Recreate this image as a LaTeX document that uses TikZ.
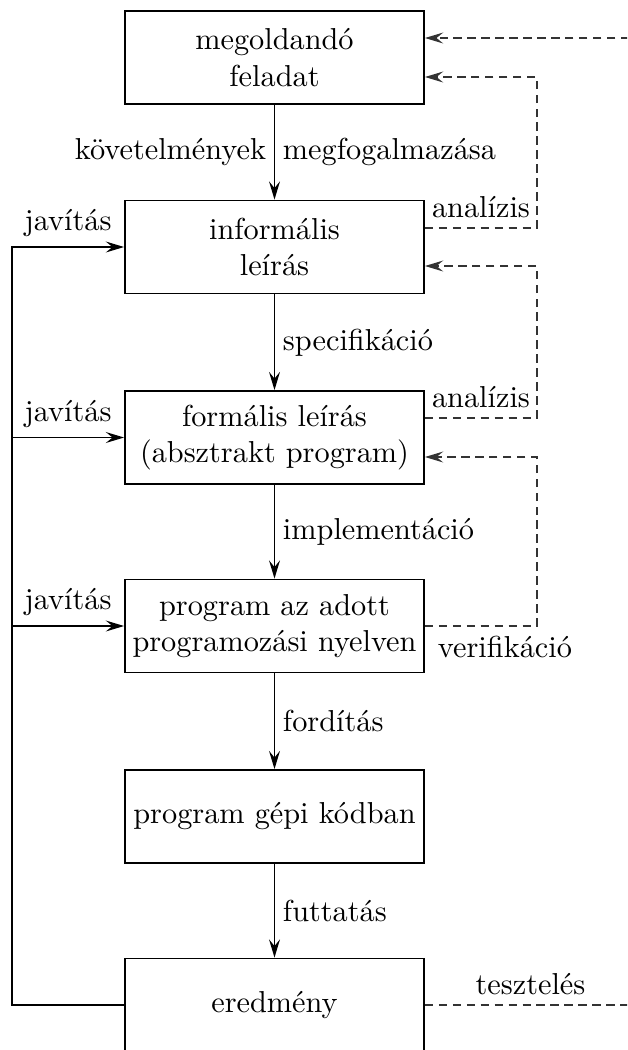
\documentclass[tikz,border=0pt]{standalone}
\usepackage{fontspec}
\usetikzlibrary{arrows.meta,calc}
\begin{document}
\begin{tikzpicture}[x=0.33pt,y=-0.33pt,
  stage/.style={draw,line width=0.6pt,minimum width=98.7pt,minimum height=30.7pt,
    align=center,inner sep=0pt},
  tip/.style={-{Stealth[length=6pt,width=3.6pt,inset=2.2pt]}},
  flow/.style={line width=0.6pt,tip},
  back/.style={line width=0.6pt,black!80,dash pattern=on 2.8pt off 1.8pt,tip},
  lbl/.style={inner sep=3pt,text=black},
  side/.style={inner sep=2.5pt}]
\useasboundingbox (0,0) rectangle (627,1050);
\clip (0,0) rectangle (627,1050);

% stages of the process
\node[stage] (b1) at (274.5,57.5)  {megoldandó\\feladat};
\node[stage] (b2) at (274.5,247)   {informális\\leírás};
\node[stage] (b3) at (274.5,437.5) {formális leírás\\(absztrakt program)};
\node[stage] (b4) at (274.5,626)   {program az adott\\programozási nyelven};
\node[stage] (b5) at (274.5,816.5) {program gépi kódban};
\node[stage] (b6) at (274.5,1005)  {eredmény};

% main flow downwards
\draw[flow] (b1) -- (b2)
  node[midway,left,side]{követelmények}
  node[midway,right,side]{megfogalmazása};
\draw[flow] (b2) -- (b3) node[midway,right,side]{specifikáció};
\draw[flow] (b3) -- (b4) node[midway,right,side]{implementáció};
\draw[flow] (b4) -- (b5) node[midway,right,side]{fordítás};
\draw[flow] (b5) -- (b6) node[midway,right,side]{futtatás};

% correction loop on the left
\coordinate (rail) at (12,0);
\draw[flow] (b6.west) -- (b6.west -| rail) |- (b2.west)
  node[pos=0.75,above,lbl]{javítás};
\draw[flow] (b3.west -| rail) -- (b3.west) node[midway,above,lbl]{javítás};
\draw[flow] (b4.west -| rail) -- (b4.west) node[midway,above,lbl]{javítás};

% checking loops on the right
\coordinate (col) at (537,0);
\coordinate (far) at (636,0);
\coordinate (i0) at ($(b1.east)+(0,-19.5)$);
\coordinate (i1) at ($(b1.east)+(0,19.5)$);
\coordinate (o2) at ($(b2.east)+(0,-19)$);
\coordinate (i2) at ($(b2.east)+(0,19)$);
\coordinate (o3) at ($(b3.east)+(0,-19.5)$);
\coordinate (i3) at ($(b3.east)+(0,19.5)$);

\draw[back] (o2) -- (o2 -| col) node[midway,above,lbl]{analízis} |- (i1);
\draw[back] (o3) -- (o3 -| col) node[midway,above,lbl]{analízis} |- (i2);
\draw[back] (b4.east) -- (b4.east -| col)
  node[at start,below right,lbl,xshift=1pt]{verifikáció} |- (i3);
\draw[back] (b6.east) -- (b6.east -| far) node[midway,above,lbl]{tesztelés} |- (i0);
\end{tikzpicture}
\end{document}
